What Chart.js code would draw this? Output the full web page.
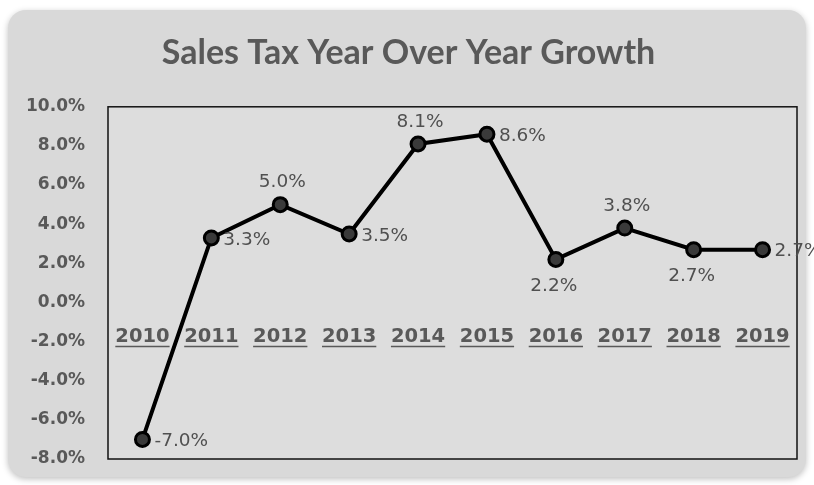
<!DOCTYPE html>
<html lang="en">
<head>
  <meta charset="UTF-8" />
  <title>Sales Tax Year Over Year Growth</title>
  <script src="https://cdn.jsdelivr.net/npm/chart.js"></script>
  <style>
    html, body {
      margin: 0;
      padding: 0;
      background: #ffffff;
    }
    #wrap {
      width: 814px;
      height: 485px;
    }
  </style>
</head>
<body>
  <div id="wrap"><canvas id="chart"></canvas></div>

  <script>
    // === Data ===
    const years = ["2010", "2011", "2012", "2013", "2014", "2015", "2016", "2017", "2018", "2019"];
    const growth = [-7.0, 3.3, 5.0, 3.5, 8.1, 8.6, 2.2, 3.8, 2.7, 2.7];
    const yTicks = [-8, -6, -4, -2, 0, 2, 4, 6, 8, 10];

    // where each value label sits relative to its point
    const labelSide = ["right", "right", "above", "right", "above", "right", "below", "above", "below", "right"];

    const textGray = "#595959";
    const titleFont = "Lato, 'Open Sans', sans-serif";
    const bodyFont = "'DejaVu Sans', sans-serif";

    // === Rounded grey panel + plot frame ===
    const panel = {
      id: "panel",
      beforeDraw(chart) {
        const c = chart.ctx;
        const { left, top, right, bottom } = chart.chartArea;
        c.save();
        c.shadowColor = "rgba(0,0,0,0.25)";
        c.shadowBlur = 6;
        c.shadowOffsetY = 2;
        c.fillStyle = "#d9d9d9";
        c.beginPath();
        c.roundRect(8, 10, 798, 467, 18);
        c.fill();
        c.restore();

        c.save();
        c.fillStyle = "#dddddd";
        c.fillRect(left, top, right - left, bottom - top);
        c.restore();
      },
      afterDatasetsDraw(chart) {
        const c = chart.ctx;
        const { left, top, right, bottom } = chart.chartArea;
        c.save();
        c.strokeStyle = "#111111";
        c.lineWidth = 1.5;
        c.strokeRect(left, top, right - left, bottom - top);
        c.restore();
      }
    };

    // === Underlined category labels next to the zero line ===
    const yearLabels = {
      id: "yearLabels",
      afterDatasetsDraw(chart) {
        const c = chart.ctx;
        const x = chart.scales.x;
        const y0 = chart.scales.y.getPixelForValue(0);
        c.save();
        c.font = "bold 19.5px " + bodyFont;
        c.fillStyle = textGray;
        c.strokeStyle = textGray;
        c.lineWidth = 1.5;
        c.textAlign = "center";
        c.textBaseline = "alphabetic";
        years.forEach((yr, i) => {
          const px = x.getPixelForValue(i);
          const base = y0 + 40;
          c.fillText(yr, px, base);
          const w = c.measureText(yr).width;
          c.beginPath();
          c.moveTo(px - w / 2, base + 4);
          c.lineTo(px + w / 2, base + 4);
          c.stroke();
        });
        c.restore();
      }
    };

    // === Value labels ===
    const valueLabels = {
      id: "valueLabels",
      afterDatasetsDraw(chart) {
        const c = chart.ctx;
        const meta = chart.getDatasetMeta(0);
        c.save();
        c.font = "18.5px " + bodyFont;
        c.fillStyle = "#505050";
        c.textBaseline = "middle";
        meta.data.forEach((pt, i) => {
          const txt = growth[i].toFixed(1) + "%";
          const side = labelSide[i];
          if (side === "right") {
            c.textAlign = "left";
            c.fillText(txt, pt.x + 12, pt.y + 2);
          } else if (side === "above") {
            c.textAlign = "center";
            c.fillText(txt, pt.x + 2, pt.y - 22);
          } else {
            c.textAlign = "center";
            c.fillText(txt, pt.x - 2, pt.y + 27);
          }
        });
        c.restore();
      }
    };

    // === Chart ===
    const ctx = document.getElementById("chart").getContext("2d");
    const chart = new Chart(ctx, {
      type: "line",
      data: {
        labels: years,
        datasets: [{
          data: growth,
          borderColor: "#000000",
          borderWidth: 4,
          pointRadius: 7,
          pointBorderWidth: 3,
          pointBorderColor: "#000000",
          pointBackgroundColor: "#3a3a3a",
          tension: 0
        }]
      },
      options: {
        responsive: true,
        maintainAspectRatio: false,
        animation: false,
        layout: {
          padding: { left: 20, right: 17, top: 0, bottom: 26 }
        },
        plugins: {
          legend: { display: false },
          tooltip: { enabled: false },
          title: {
            display: true,
            text: "Sales Tax Year Over Year Growth",
            color: textGray,
            font: { family: titleFont, size: 34, weight: "bold" },
            padding: { top: 33, bottom: 33 }
          }
        },
        scales: {
          x: {
            display: false,
            offset: true
          },
          y: {
            min: -8,
            max: 10,
            afterFit(scale) { scale.width = 88; },
            afterBuildTicks(scale) {
              scale.ticks = yTicks.map(v => ({ value: v }));
            },
            // invisible tick marks keep the labels away from the frame
            // without adding vertical padding
            grid: { display: false, drawTicks: true, tickLength: 20 },
            border: { display: false },
            ticks: {
              padding: 3,
              color: textGray,
              font: { family: bodyFont, size: 17, weight: "bold" },
              callback: v => v.toFixed(1) + "%"
            }
          }
        }
      },
      plugins: [panel, yearLabels, valueLabels]
    });
  </script>
</body>
</html>
